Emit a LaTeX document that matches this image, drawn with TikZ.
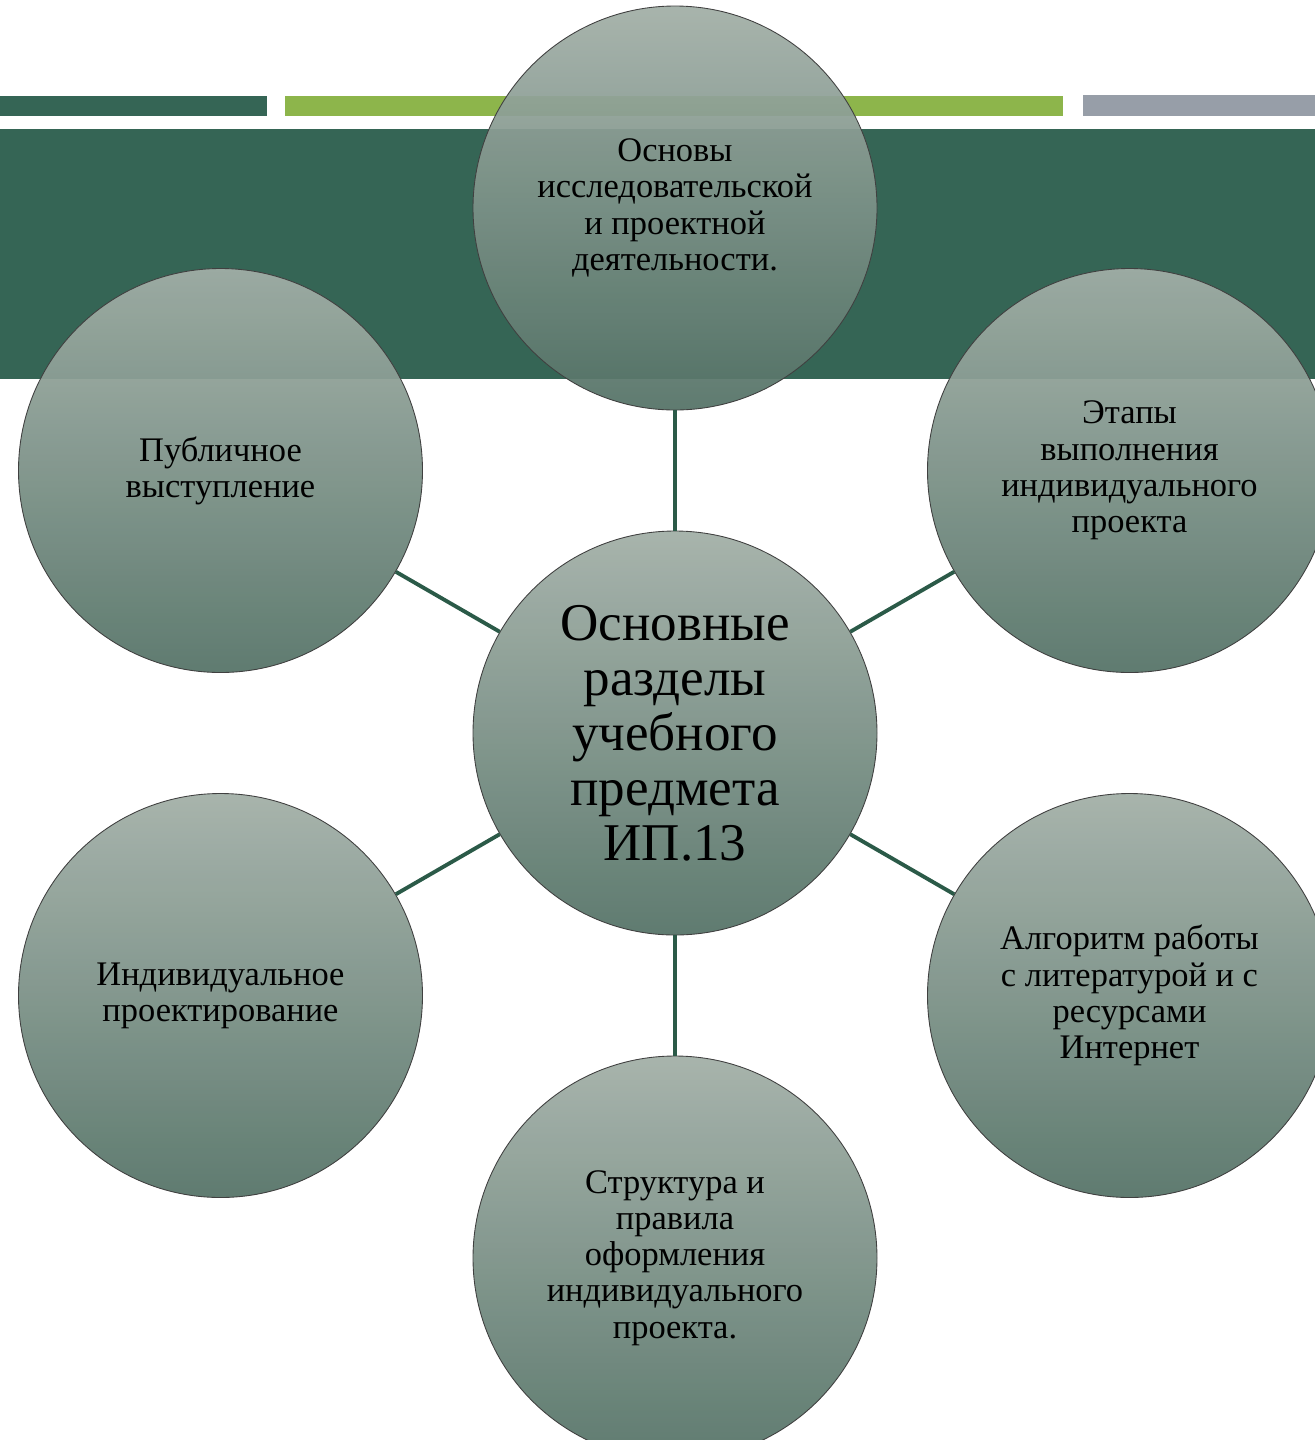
\documentclass[tikz,border=0pt]{standalone}
\usepackage{fontspec}
\setmainfont{Liberation Serif}
\usetikzlibrary{positioning,calc}

\definecolor{deepgreen}{HTML}{356555}
\definecolor{leafgreen}{HTML}{8DB54B}
\definecolor{steelgrey}{HTML}{979EA8}
\definecolor{ringtop}{HTML}{A2AFA7}
\definecolor{ringbot}{HTML}{557367}
\definecolor{linkgreen}{HTML}{2B5A48}

\begin{document}
\begin{tikzpicture}[
    topic/.style={circle,minimum size=8.08cm,inner sep=0pt,align=center,
      top color=ringtop,bottom color=ringbot,fill opacity=0.94,text opacity=1,
      draw=black!75,line width=0.5pt,font=\fontsize{19.6}{20.6}\selectfont},
    hub/.style={topic,font=\fontsize{30.2}{31.3}\selectfont},
    link/.style={draw=linkgreen,line width=2.2pt}
  ]
      \useasboundingbox (0,0) rectangle (26.3,-28.8);
      \clip (0,0) rectangle (26.3,-28.8);

      % header bars
      \fill[deepgreen] (0,-1.92) rectangle (5.34,-2.32);
      \fill[leafgreen] (5.7,-1.92) rectangle (21.26,-2.32);
      \fill[steelgrey] (21.66,-1.90) rectangle (26.3,-2.32);
      \fill[deepgreen] (0,-2.58) rectangle (26.3,-7.58);

      \coordinate (M) at (13.5,-14.66);
      \coordinate (T) at (13.5,-4.16);
      \coordinate (UR) at (22.59,-9.41);
      \coordinate (LR) at (22.59,-19.91);
      \coordinate (B) at (13.5,-25.16);
      \coordinate (LL) at (4.41,-19.91);
      \coordinate (UL) at (4.41,-9.41);

      \node[hub] (main) at (M) {Основные\\разделы\\учебного\\предмета\\ИП.13};
      \node[topic] (basics) at (T) {Основы\\исследовательской\\и проектной\\деятельности.};
      \node[topic] (stages) at (UR) {Этапы\\выполнения\\индивидуального\\проекта};
      \node[topic] (sources) at (LR) {Алгоритм работы\\с литературой и с\\ресурсами\\Интернет};
      \node[topic] (layout) at (B) {Структура и\\правила\\оформления\\индивидуального\\проекта.};
      \node[topic] (design) at (LL) {Индивидуальное\\проектирование};
      \node[topic] (speech) at (UL) {Публичное\\выступление};

      \draw[link] (main) -- (basics);
      \draw[link] (main) -- (stages);
      \draw[link] (main) -- (sources);
      \draw[link] (main) -- (layout);
      \draw[link] (main) -- (design);
      \draw[link] (main) -- (speech);

\end{tikzpicture}
\end{document}
